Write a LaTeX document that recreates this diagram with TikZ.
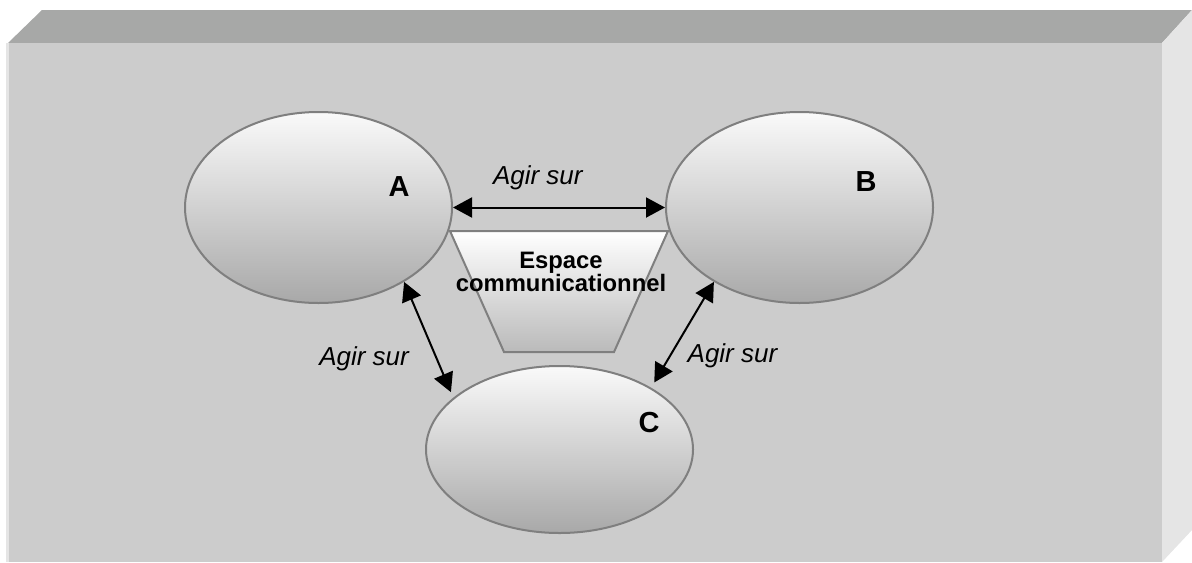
\documentclass[tikz,border=0pt]{standalone}
\usepackage{fontspec}
\setmainfont{Liberation Sans}
\usetikzlibrary{arrows.meta,shapes.geometric,positioning}
\definecolor{boxtop}{HTML}{A7A8A7}
\definecolor{boxfront}{HTML}{CCCCCC}
\definecolor{boxside}{HTML}{E5E5E5}
\definecolor{rim}{HTML}{7F7F7F}

\begin{document}
\begin{tikzpicture}[x=0.5pt,y=-0.5pt,
  personne/.style={ellipse,draw=rim,line width=1pt,inner sep=0pt,
    minimum width=133.5pt,minimum height=95.5pt,
    top color=white!98!black,bottom color=black!34},
  lettre/.style={font=\fontsize{14.5}{17}\selectfont\bfseries,inner sep=0pt},
  agir/.style={font=\fontsize{13}{15}\selectfont\itshape},
  liaison/.style={{Triangle[length=9.5pt,width=10pt]}-{Triangle[length=9.5pt,width=10pt]},line width=1pt,black}]

\useasboundingbox (0,0) rectangle (1192,562);

% the box
\fill[boxtop] (8,43) -- (42,10) -- (1192,10) -- (1162,43) -- cycle;
\fill[boxside] (1162,43) -- (1192,10) -- (1192,530) -- (1162,562) -- cycle;
\fill[boxside] (6,43) rectangle (9,562);
\fill[boxfront] (9,43) rectangle (1162,562);

% espace communicationnel
\shade[top color=white,bottom color=black!27,draw=rim,line width=1pt]
  (450,231) -- (668,231) -- (614,352) -- (504,352) -- cycle;
\node[font=\fontsize{11.9}{11.5}\selectfont\bfseries,align=center] (esp) at (561,272)
  {Espace\\communicationnel};

\node[personne] (A) at (318.5,207.5) {};
\node[personne] (B) at (799.5,207.5) {};
\node[personne,minimum height=83.5pt] (C) at (559.5,449.5) {};

\node[lettre] (nA) at (399,187) {A};
\node[lettre] (nB) at (866,182) {B};
\node[lettre] (nC) at (649,423) {C};

\path[liaison] (A) edge node[agir,above=5pt,pos=0.4]{Agir sur} (B)
(A.-41) edge[shorten >=3pt] node[agir,pos=0.66,left=10pt]{Agir sur} (C.154)
(B.-139) edge[shorten >=3pt] node[agir,pos=0.7,right=5pt]{Agir sur} (C.34);

\end{tikzpicture}
\end{document}
